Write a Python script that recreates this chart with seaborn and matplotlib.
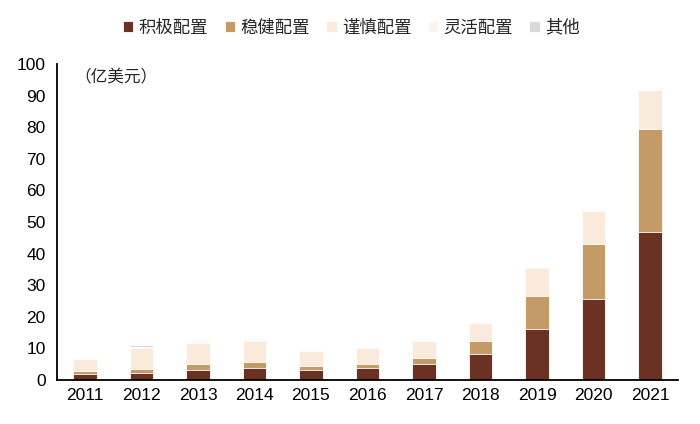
import numpy as np
import pandas as pd
import matplotlib
matplotlib.use("Agg")
import matplotlib.pyplot as plt
import seaborn as sns

# data (亿美元)
years = ["2011", "2012", "2013", "2014", "2015", "2016", "2017", "2018", "2019", "2020", "2021"]
active = [1.9, 2.3, 3.2, 3.8, 3.2, 3.8, 5.1, 8.3, 16.0, 25.6, 46.9]
steady = [1.0, 1.2, 1.9, 1.9, 1.2, 1.3, 1.8, 4.0, 10.6, 17.4, 32.5]
prudent = [3.6, 6.7, 6.6, 6.7, 4.9, 5.1, 5.4, 5.6, 8.7, 10.4, 12.4]
flexible = [0.2, 0.3, 0.3, 0.3, 0.2, 0.2, 0.2, 0.2, 0.2, 0.2, 0.2]
other = [0.3, 0.4, 0.3, 0.2, 0.1, 0.1, 0.1, 0.1, 0.1, 0.1, 0.1]

names = ["积极配置", "稳健配置", "谨慎配置", "灵活配置", "其他"]
colors = ["#6B3123", "#C49A66", "#FAEADC", "#FDF4EC", "#D9D9D9"]

df = pd.DataFrame({"year": years, names[0]: active, names[1]: steady,
                   names[2]: prudent, names[3]: flexible, names[4]: other})
cum = df[names].cumsum(axis=1)

sns.set_style("white")
plt.rcParams["font.family"] = ["Liberation Sans", "Noto Sans CJK SC", "DejaVu Sans"]
cjk = ["Noto Sans CJK SC", "DejaVu Sans"]

fig = plt.figure(figsize=(7, 4.24), dpi=100)
ax = fig.add_axes([0.081, 0.104, 0.888, 0.745])

# draw cumulative totals from the top layer down so they stack
for name, col in zip(names[::-1], colors[::-1]):
    sns.barplot(x=df["year"], y=cum[name], color=col, width=0.42,
                edgecolor="white", linewidth=0.6, saturation=1, ax=ax, label=name)
handles, labels = ax.get_legend_handles_labels()
if ax.get_legend() is not None:
    ax.get_legend().remove()

ax.set_ylim(0, 100)
ax.set_yticks(range(0, 101, 10))
ax.set_xlim(-0.5, len(years) - 0.5)
ax.set_xlabel("")
ax.set_ylabel("")

for s in ["top", "right"]:
    ax.spines[s].set_visible(False)
for s in ["left", "bottom"]:
    ax.spines[s].set_color("black")
    ax.spines[s].set_linewidth(1.3)

ax.tick_params(axis="y", direction="out", length=5, width=1.2, color="black",
               labelsize=12.5, pad=3, labelcolor="black")
ax.tick_params(axis="x", which="major", length=0, labelsize=12.5, pad=6, labelcolor="black")
ax.set_xticks(np.arange(-0.5, len(years)), minor=True)
ax.tick_params(axis="x", which="minor", direction="out", length=5, width=1.2, color="black")

ax.text(0.028, 0.955, "（亿美元）", transform=ax.transAxes, fontsize=12,
        family=cjk, va="center")

order = [labels.index(n) for n in names]
fig.legend([handles[i] for i in order], names, loc="center", bbox_to_anchor=(0.502, 0.935),
           ncol=5, frameon=False, handlelength=0.6, handleheight=0.6,
           handletextpad=0.3, columnspacing=0.95,
           prop={"family": cjk, "size": 12.5})

fig.savefig("out.png", dpi=100)
